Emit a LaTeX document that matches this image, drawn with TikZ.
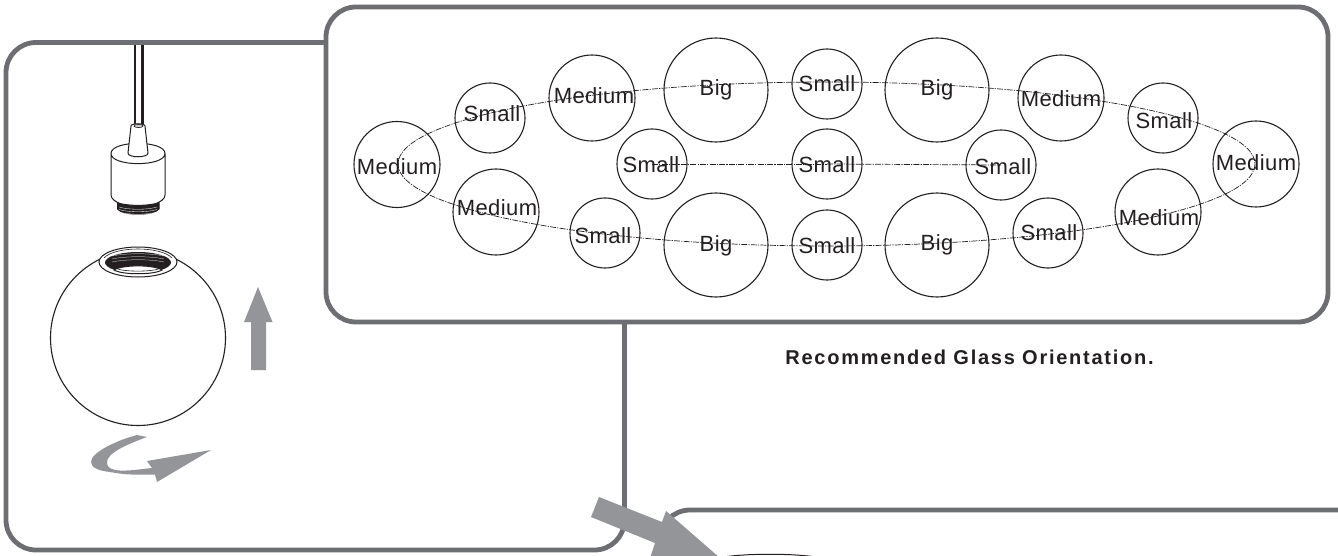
\documentclass[tikz,border=0pt]{standalone}
\usepackage{fontspec}
\setmainfont{Liberation Sans}
\newfontfamily\lblfont[LetterSpace=2]{Liberation Sans}
\newfontfamily\capfont[LetterSpace=8.7]{Liberation Sans Bold}
\definecolor{framegray}{HTML}{6D6E71}
\definecolor{arrowgray}{HTML}{939598}
\definecolor{inkdark}{HTML}{231F20}
\tikzset{
  panel/.style={draw=framegray,line width=4.8pt,fill=white,rounded corners=30pt},
  ringbase/.style={circle,draw=inkdark,line width=1.1pt,inner sep=0pt},
  bigring/.style={ringbase,minimum size=104pt},
  medring/.style={ringbase,minimum size=86pt},
  smallring/.style={ringbase,minimum size=70pt},
  ringlabel/.style={inner sep=0pt,text=inkdark,font=\lblfont\fontsize{22}{22}\selectfont},
  guide/.style={draw=inkdark,line width=.7pt,dash pattern=on 6pt off 1.2pt on 1.2pt off 1.2pt},
  lampline/.style={draw=inkdark,line width=1pt},
  greyarrow/.style={fill=arrowgray,draw=none}
}
\begin{document}
\begin{tikzpicture}[x=1pt,y=-1pt]
\useasboundingbox (0,0) rectangle (1338,556);
\clip (0,0) rectangle (1338,556);
\fill[white] (0,0) rectangle (1338,556);
% left panel
\draw[panel] (6,42.5) rectangle (624.5,550);
% lower right panel
\draw[panel,fill=none] (660,600) -- (660,510) -- (1400,510);
% top panel
\draw[panel] (326,7) rectangle (1328,322);
% cord
\draw[inkdark,line width=2.6pt] (135,45) -- (135,126);
\draw[inkdark,line width=2.6pt] (142.5,45) -- (142.5,126);
% socket
\draw[lampline,fill=inkdark] (117.5,203) -- (117.5,209) .. controls (122,216) and (154,216) .. (159,209) -- (159,203) -- cycle;
\foreach \yy in {207,209.5,212}{
  \draw[white,line width=.3pt] (119,\yy) .. controls (128,\yy+3) and (148,\yy+3) .. (157,\yy);
}
\draw[lampline,fill=white] (111,153.5) -- (111,195) .. controls (111,199) and (116,202) .. (120,203.5) .. controls (130,206) and (146,206) .. (156,203.5) .. controls (160,202) and (165,199) .. (165,195) -- (165,153.5) .. controls (165,140) and (111,140) .. (111,153.5) .. controls (111,167) and (165,167) .. (165,153.5);
\draw[lampline,fill=white] (131,126) -- (128,153) .. controls (128,158) and (148,158) .. (148,153) -- (145,126) .. controls (145,123) and (131,123) .. cycle;
\draw[draw=inkdark,line width=.7pt,fill=arrowgray!40] (134,126) .. controls (134,124) and (143,124) .. (143,126) .. controls (143,128) and (134,128) .. cycle;
% globe
\node[circle,draw=inkdark,line width=1.1pt,minimum size=175pt,inner sep=0pt] (globe) at (138,338) {};
\draw[lampline,fill=white] (138,262) ellipse [x radius=39,y radius=15];
\draw[inkdark,line width=.6pt] (104,258) .. controls (115,246) and (161,246) .. (172,258);
\fill[inkdark] (138,262.5) ellipse [x radius=33,y radius=10.5];
\foreach \yy in {256,259,262}{
  \draw[white,line width=.25pt] (112,\yy) .. controls (125,\yy-3) and (151,\yy-3) .. (164,\yy);
}
\draw[lampline,fill=white] (114,270) .. controls (122,264.5) and (154,264.5) .. (162,270) .. controls (154,275) and (122,275) .. (114,270) -- cycle;
\draw[inkdark,line width=.6pt] (116,268.5) .. controls (125,272) and (151,272) .. (160,268.5);
% up arrow
\fill[greyarrow] (258,287) -- (272.5,322) -- (266,322) -- (266,370) -- (251,370) -- (251,322) -- (244,322) -- cycle;
% twist arrow
\fill[greyarrow] (137,435) -- (147,437) .. controls (128,444) and (106,453) .. (107,463) .. controls (107,468) and (112,470) .. (120,470.5) .. controls (130,471) and (142,469) .. (152,468) -- (147,461) -- (211,450) -- (157,482) -- (155,474.5) .. controls (140,475) and (125,475) .. (110,472) .. controls (100,471) and (91,468) .. (91,462) .. controls (91,452) and (118,440) .. (137,435) -- cycle;
% big arrow
\fill[greyarrow] (599,497) -- (662,522) -- (666,511) -- (720,558) -- (650,558) -- (655,543) -- (591,517) -- cycle;
% arc at bottom
\draw[inkdark,line width=1pt] (727,556.5) .. controls (750,553.5) and (790,553.5) .. (812,556.5);
% ellipse guide
\draw[guide] (826.5,164) ellipse [x radius=428.5,y radius=82];
% rings
\node[medring] (m1) at (397,164.5) {};
\node[smallring] (s1) at (490,118) {};
\node[medring] (m2) at (592,98) {};
\node[bigring] (b1) at (716,90) {};
\node[smallring] (s2) at (827,84) {};
\node[bigring] (b2) at (937,90) {};
\node[medring] (m3) at (1061,98) {};
\node[smallring] (s3) at (1163,118) {};
\node[medring] (m4) at (1256,164) {};
\node[medring] (m5) at (496,212) {};
\node[smallring] (s4) at (605,233) {};
\node[bigring] (b3) at (716,245) {};
\node[smallring] (s5) at (827,245) {};
\node[bigring] (b4) at (937,245) {};
\node[smallring] (s6) at (1048,233) {};
\node[medring] (m6) at (1158,212) {};
\node[smallring] (s7) at (652,164) {};
\node[smallring] (s8) at (827,164) {};
\node[smallring] (s9) at (1001,165) {};
\draw[guide] (s7.center) -- (s8.center);
\draw[guide] (s8.center) -- (s9.center);
% ring texts
\node[ringlabel] (m1t) at (397,167) {Medium};
\node[ringlabel] (s1t) at (492,114) {Small};
\node[ringlabel] (m2t) at (594,96) {Medium};
\node[ringlabel] (b1t) at (716,90) {Big};
\node[ringlabel] (s2t) at (827,84) {Small};
\node[ringlabel] (b2t) at (937,90) {Big};
\node[ringlabel] (m3t) at (1061,99) {Medium};
\node[ringlabel] (s3t) at (1164,121) {Small};
\node[ringlabel] (m4t) at (1256,163) {Medium};
\node[ringlabel] (m5t) at (497,208) {Medium};
\node[ringlabel] (s4t) at (603,236) {Small};
\node[ringlabel] (b3t) at (716,246) {Big};
\node[ringlabel] (s5t) at (827,246) {Small};
\node[ringlabel] (b4t) at (937,245) {Big};
\node[ringlabel] (s6t) at (1049,233) {Small};
\node[ringlabel] (m6t) at (1159,218) {Medium};
\node[ringlabel] (s7t) at (651,165) {Small};
\node[ringlabel] (s8t) at (827,165) {Small};
\node[ringlabel] (s9t) at (1003,167) {Small};
% caption
\node[text=inkdark,font=\capfont\fontsize{20}{20}\selectfont,inner sep=0pt] (cap) at (969.5,357) {Recommended Glass Orientation.};
\end{tikzpicture}
\end{document}
